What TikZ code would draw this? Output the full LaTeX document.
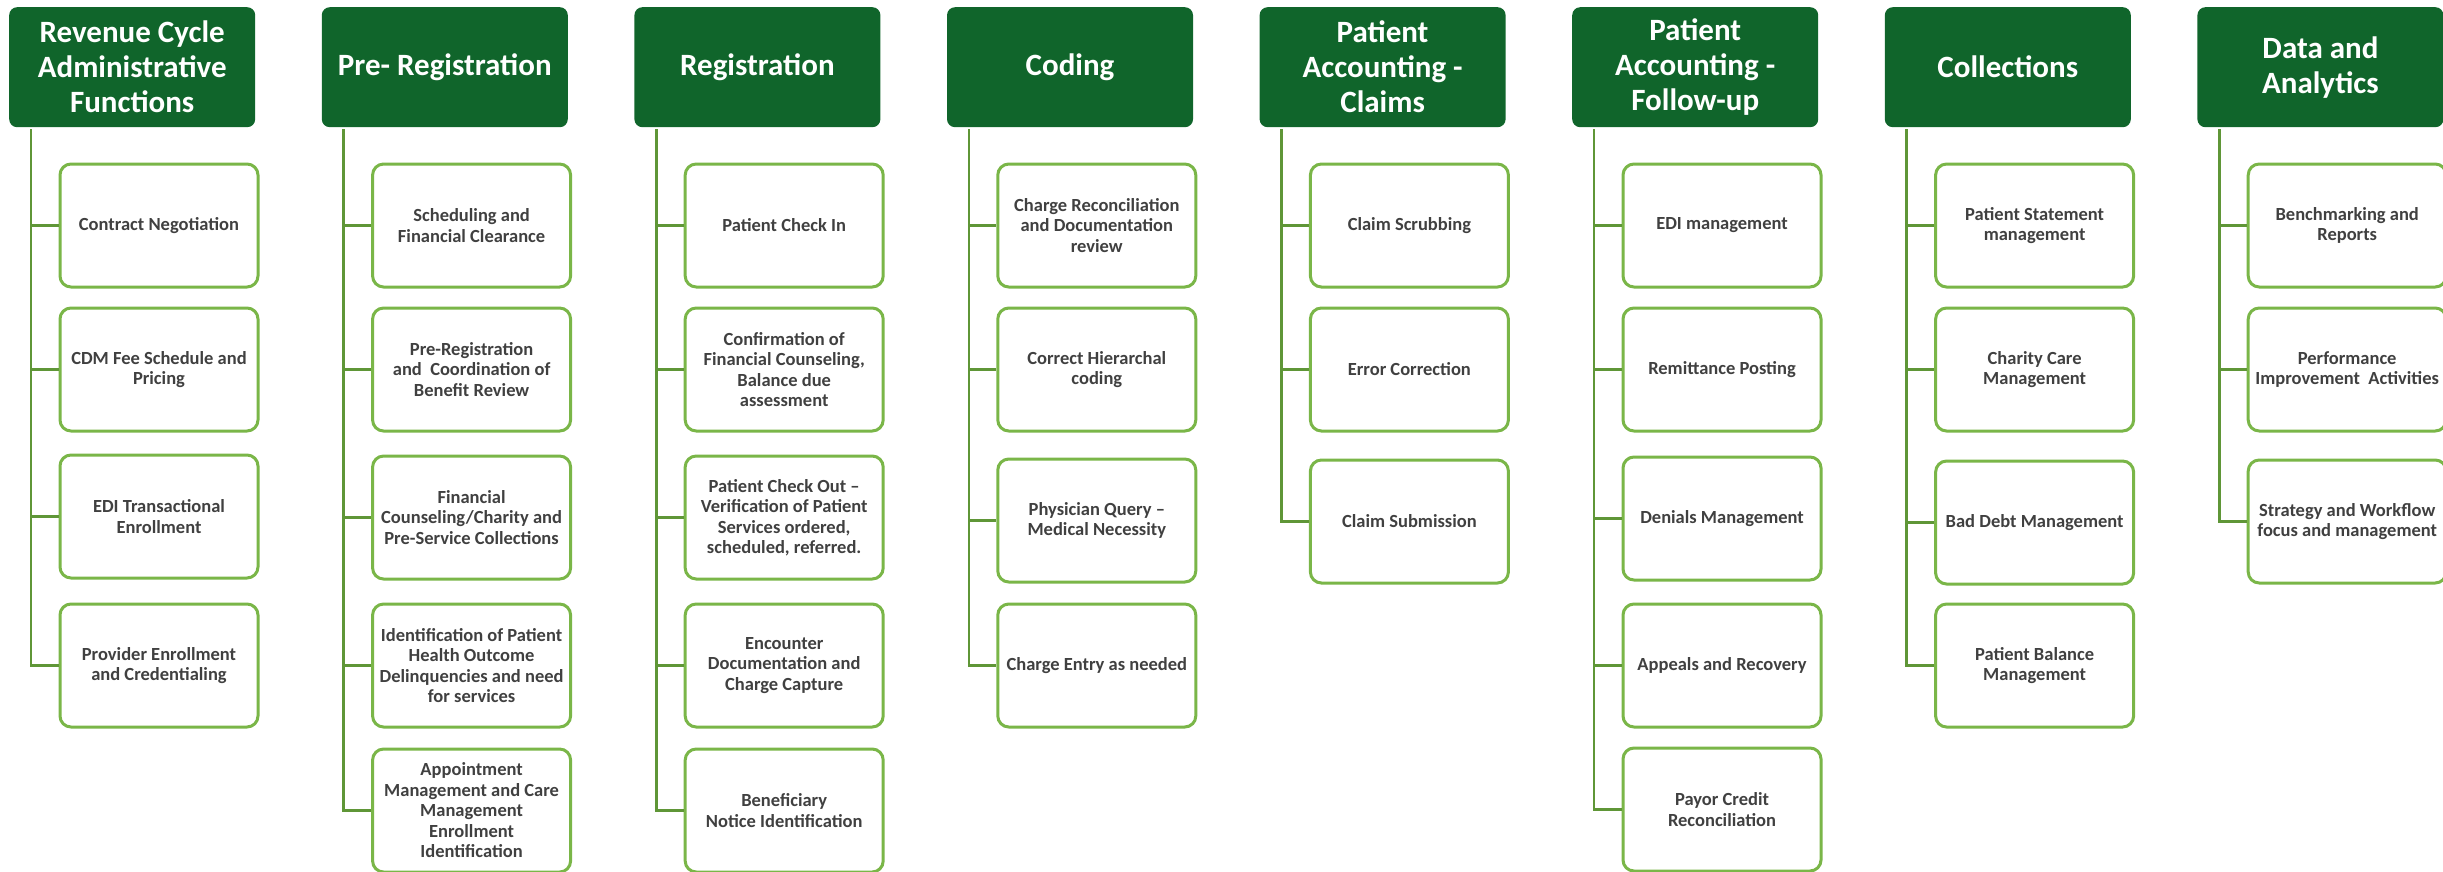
\documentclass[tikz,border=0pt]{standalone}
\usepackage{fontspec}
\setmainfont{Carlito}
\definecolor{hdrgreen}{RGB}{16,101,43}
\definecolor{boxgreen}{RGB}{122,182,72}
\definecolor{conngreen}{RGB}{95,150,55}
\definecolor{txtgray}{RGB}{64,64,64}
\begin{document}
\begin{tikzpicture}[x=1pt,y=-1pt,
  hdr/.style={fill=hdrgreen, draw=none, rounded corners=8pt, minimum width=246pt, minimum height=120pt,
    inner sep=0pt, anchor=north west, align=center, text=white, font=\bfseries\fontsize{31}{35}\selectfont},
  item/.style={draw=boxgreen, line width=3pt, fill=white, rounded corners=11pt, minimum width=198pt,
    minimum height=123pt, inner sep=0pt, anchor=north west, align=center, text=txtgray,
    font=\bfseries\fontsize{18.5}{20.5}\selectfont},
  conn/.style={draw=conngreen, line width=2.6pt}]
\useasboundingbox (0,0) rectangle (2443,871);

% ---------- Column 1
\node[hdr] (h1) at (9,7) {Revenue Cycle\\Administrative\\Functions};
\node[item] (b11) at (58.5,162.5) {Contract Negotiation};
\node[item] (b12) at (58.5,306.5) {CDM Fee Schedule and\\Pricing};
\node[item] (b13) at (58.5,453.5) {EDI Transactional\\Enrollment};
\node[item] (b14) at (58.5,602.5) {Provider Enrollment\\and Credentialing};
% ---------- Column 2
\node[hdr] (h2) at (321.6,7) {Pre- Registration};
\node[item] (b21) at (371.1,162.5) {Scheduling and\\Financial Clearance};
\node[item] (b22) at (371.1,306.5) {Pre-Registration\\and \ Coordination of\\Benefit Review};
\node[item] (b23) at (371.1,454.5) {Financial\\Counseling/Charity and\\Pre-Service Collections};
\node[item] (b24) at (371.1,602.5) {Identification of Patient\\Health Outcome\\Delinquencies and need\\for services};
\node[item] (b25) at (371.1,747.5) {Appointment\\Management and Care\\Management\\Enrollment\\Identification};
% ---------- Column 3
\node[hdr] (h3) at (634.2,7) {Registration};
\node[item] (b31) at (683.7,162.5) {Patient Check In};
\node[item] (b32) at (683.7,306.5) {Confirmation of\\Financial Counseling,\\Balance due\\assessment};
\node[item] (b33) at (683.7,454.5) {Patient Check Out --\\Verification of Patient\\Services ordered,\\scheduled, referred.};
\node[item] (b34) at (683.7,602.5) {Encounter\\Documentation and\\Charge Capture};
\node[item] (b35) at (683.7,747.5) {Beneficiary\\Notice Identification};
% ---------- Column 4
\node[hdr] (h4) at (946.8,7) {Coding};
\node[item] (b41) at (996.3,162.5) {Charge Reconciliation\\and Documentation\\review};
\node[item] (b42) at (996.3,306.5) {Correct Hierarchal\\coding};
\node[item] (b43) at (996.3,457.5) {Physician Query --\\Medical Necessity};
\node[item] (b44) at (996.3,602.5) {Charge Entry as needed};
% ---------- Column 5
\node[hdr] (h5) at (1259.4,7) {Patient\\Accounting -\\Claims};
\node[item] (b51) at (1308.9,162.5) {Claim Scrubbing};
\node[item] (b52) at (1308.9,306.5) {Error Correction};
\node[item] (b53) at (1308.9,458.5) {Claim Submission};
% ---------- Column 6
\node[hdr] (h6) at (1572,7) {Patient\\Accounting -\\Follow-up};
\node[item] (b61) at (1621.5,162.5) {EDI management};
\node[item] (b62) at (1621.5,306.5) {Remittance Posting};
\node[item] (b63) at (1621.5,455.5) {Denials Management};
\node[item] (b64) at (1621.5,602.5) {Appeals and Recovery};
\node[item] (b65) at (1621.5,746.5) {Payor Credit\\Reconciliation};
% ---------- Column 7
\node[hdr] (h7) at (1884.6,7) {Collections};
\node[item] (b71) at (1934.1,162.5) {Patient Statement\\management};
\node[item] (b72) at (1934.1,306.5) {Charity Care\\Management};
\node[item] (b73) at (1934.1,459.5) {Bad Debt Management};
\node[item] (b74) at (1934.1,602.5) {Patient Balance\\Management};
% ---------- Column 8
\node[hdr] (h8) at (2197.2,7) {Data and\\Analytics};
\node[item] (b81) at (2246.7,162.5) {Benchmarking and\\Reports};
\node[item] (b82) at (2246.7,306.5) {Performance\\Improvement \ Activities};
\node[item] (b83) at (2246.7,458.5) {Strategy and Workflow\\focus and management};

% ---------- Connectors
\foreach \c/\last/\others in {1/4/{1,2,3},2/5/{1,2,3,4},3/5/{1,2,3,4},4/4/{1,2,3},5/3/{1,2},6/5/{1,2,3,4},7/4/{1,2,3},8/3/{1,2}}{
  \coordinate (v\c) at ([xshift=22pt,yshift=-2pt]h\c.south west);
  \draw[conn] (v\c) |- (b\c\last.west);
  \foreach \r in \others {
    \draw[conn] (v\c |- b\c\r.west) -- (b\c\r.west);
  }
}
\end{tikzpicture}
\end{document}
